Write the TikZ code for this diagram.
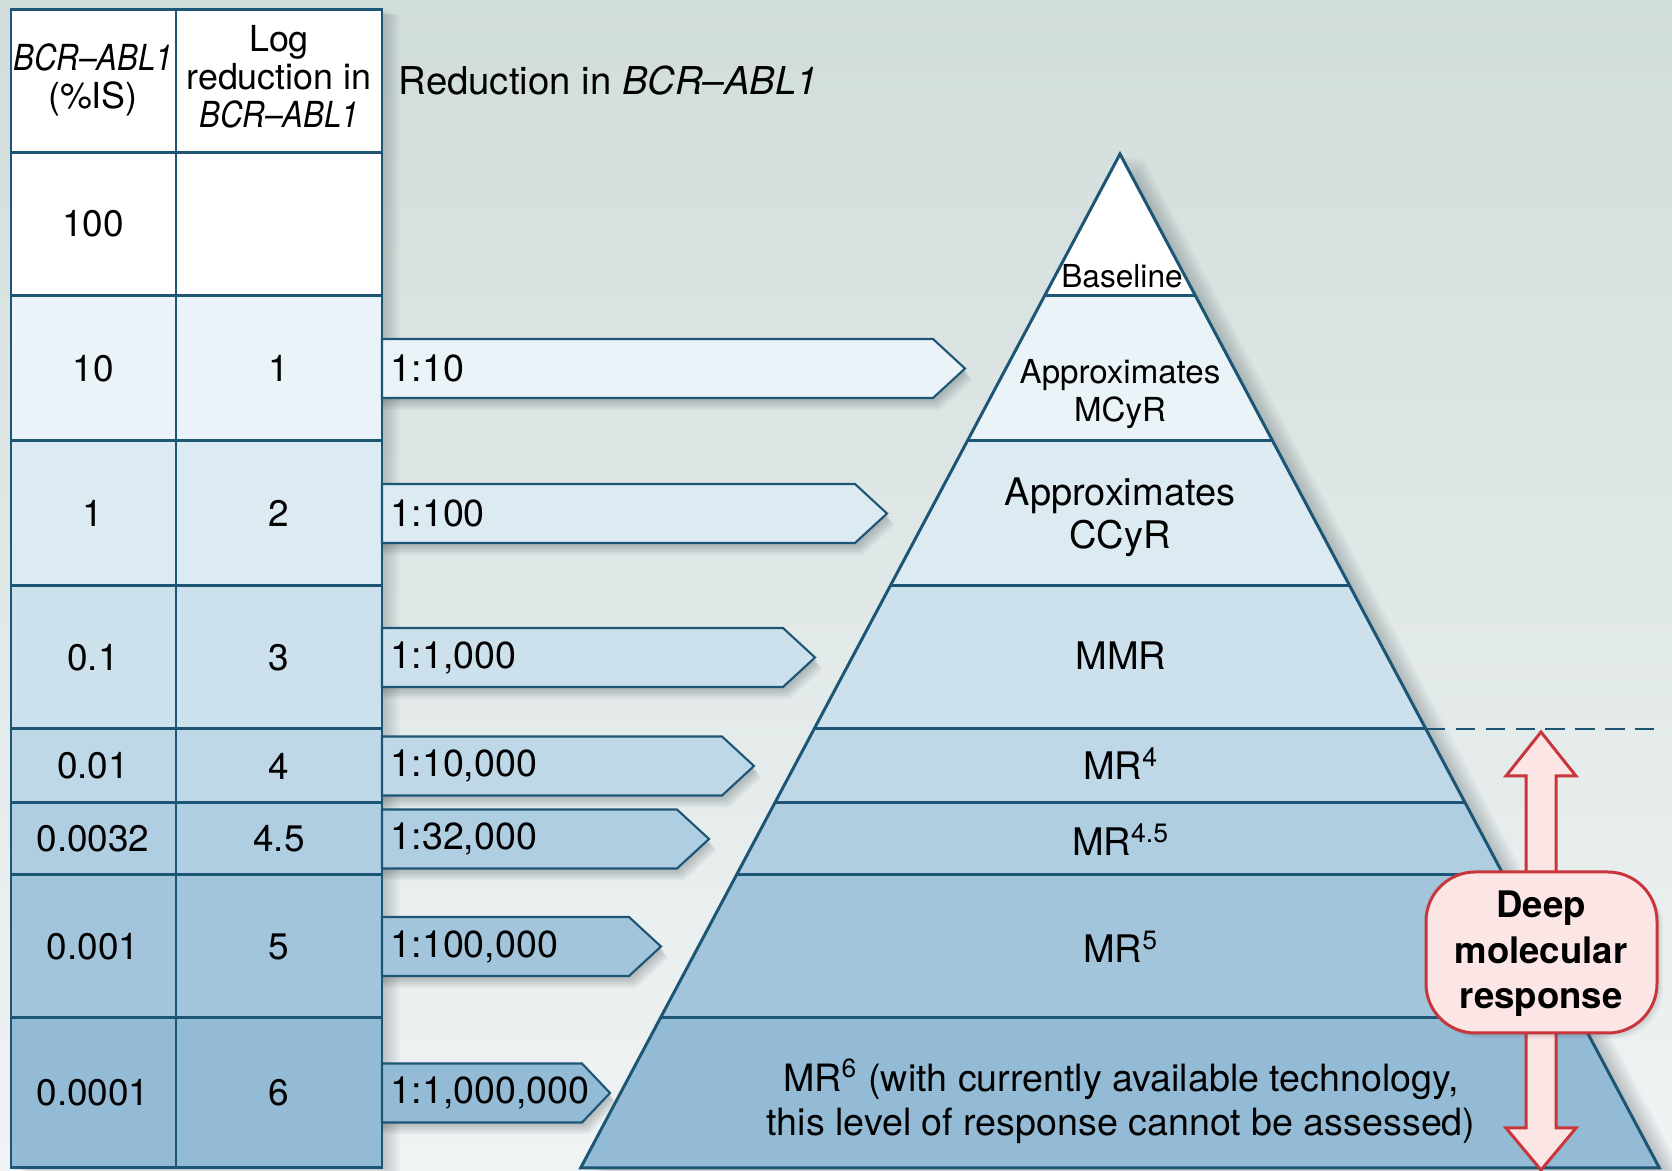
\documentclass[tikz,border=0pt]{standalone}
\usepackage{fontspec}
\setmainfont{TeX Gyre Heros}
\usepackage{graphicx}

\definecolor{bgtop}{HTML}{D1DDDB}
\definecolor{bgbot}{HTML}{F0F3F4}
\definecolor{edge}{HTML}{1D5675}
\definecolor{lvB}{HTML}{EAF3F8}
\definecolor{lvC}{HTML}{DCEAF2}
\definecolor{lvD}{HTML}{CDE1ED}
\definecolor{lvE}{HTML}{BFD8E8}
\definecolor{lvF}{HTML}{B0CEE2}
\definecolor{lvG}{HTML}{A2C5DC}
\definecolor{lvH}{HTML}{94BBD5}
\definecolor{dmrred}{HTML}{C8363C}
\definecolor{dmrfill}{HTML}{FCE5E5}
\definecolor{shade}{HTML}{233338}

\newcommand{\gene}{\textit{BCR--ABL1}}
\newcommand{\hgene}{\scalebox{0.87}[1]{\gene}}

\begin{document}
\begin{tikzpicture}[x=0.01cm, y=-0.01cm,
  haze/.style={fill=shade, opacity=0.028},
  gridline/.style={draw=edge, line width=0.85pt},
  cellnum/.style={font=\fontsize{10.5}{12}\selectfont, inner sep=0pt},
  headtext/.style={font=\fontsize{10.2}{10.8}\selectfont, align=center, inner sep=0pt},
  ratiobox/.style={fill=#1, draw=edge, line width=0.6pt, line join=miter},
  ratiotext/.style={font=\fontsize{10.7}{12}\selectfont, anchor=west, inner sep=0pt},
  level/.style={font=\fontsize{10.8}{12.2}\selectfont, align=center, inner sep=0pt},
  dmr/.style={fill=dmrfill, draw=dmrred, line width=0.85pt, line join=miter}
]
\useasboundingbox (0,0) rectangle (1672,1171);

% background
\shade[top color=bgtop, bottom color=bgbot] (0,0) rectangle (1672,1171);

% ---------- table ----------
% soft shadow: stacked translucent copies
\foreach \k in {1,...,9}
  \fill[haze] (11+2*\k,10+0.6*\k) rectangle (382+2*\k,1168+0.6*\k);
\fill[white] (11,10) rectangle (382,296);
\fill[lvB] (11,296) rectangle (382,441);
\fill[lvC] (11,441) rectangle (382,586);
\fill[lvD] (11,586) rectangle (382,729);
\fill[lvE] (11,729) rectangle (382,803);
\fill[lvF] (11,803) rectangle (382,875);
\fill[lvG] (11,875) rectangle (382,1018);
\fill[lvH] (11,1018) rectangle (382,1168);
\foreach \yy in {152.5,296,441,586,729,803,875,1018}
  \draw[gridline] (11,\yy) -- (382,\yy);
\draw[gridline] (176,10) -- (176,1168);
\draw[gridline] (11,10) rectangle (382,1168);

% table header
\node[headtext] (hpct) at (93,80) {\hgene\\(\%IS)};
\node[headtext] (hlog) at (279,76.5) {Log\\reduction in\\\hgene};

% table entries
\node[cellnum] (p100) at (93,224) {100};
\node[cellnum] (p10)  at (93,368.5) {10};
\node[cellnum] (p1)   at (93,513.5) {1};
\node[cellnum] (p01)  at (93,657.5) {0.1};
\node[cellnum] (p001) at (93,766) {0.01};
\node[cellnum] (p32)  at (93,839) {0.0032};
\node[cellnum] (p0001) at (93,946.5) {0.001};
\node[cellnum] (p00001) at (93,1093) {0.0001};
\node[cellnum] (l1)  at (279,368.5) {1};
\node[cellnum] (l2)  at (279,513.5) {2};
\node[cellnum] (l3)  at (279,657.5) {3};
\node[cellnum] (l4)  at (279,766) {4};
\node[cellnum] (l45) at (279,839) {4.5};
\node[cellnum] (l5)  at (279,946.5) {5};
\node[cellnum] (l6)  at (279,1093) {6};

% heading
\node[anchor=base west, inner sep=0pt, font=\fontsize{10.9}{13}\selectfont]
  (title) at (398,95) {Reduction in \gene};

% ---------- ratio arrows ----------
% tip x, shoulder x, centre y, colour
\foreach \tip/\sh/\cy/\col in {965/933/368.5/lvB, 887/855/513.5/lvC, 815/783/657.5/lvD,
    754/722/766/lvE, 709/677/839/lvF, 661/629/946.5/lvG, 610/582/1093/lvH}{
  \foreach \k in {1,...,8}
    \fill[haze, opacity=0.04] (382,\cy-29.5+1.5*\k) -- (\sh+0.9*\k,\cy-29.5+1.5*\k)
      -- (\tip+0.9*\k,\cy+1.5*\k) -- (\sh+0.9*\k,\cy+29.5+1.5*\k) -- (382,\cy+29.5+1.5*\k) -- cycle;
  \draw[ratiobox=\col] (382,\cy-29.5) -- (\sh,\cy-29.5) -- (\tip,\cy)
    -- (\sh,\cy+29.5) -- (382,\cy+29.5) -- cycle;
}
\draw[gridline] (382,10) -- (382,1168);

\node[ratiotext] (r1) at (390,368.5) {1:10};
\node[ratiotext] (r2) at (390,513.5) {1:100};
\node[ratiotext] (r3) at (390,657.5) {1:1,000};
\node[ratiotext] (r4) at (390,766) {1:10,000};
\node[ratiotext] (r45) at (390,839) {1:32,000};
\node[ratiotext] (r5) at (390,946.5) {1:100,000};
\node[ratiotext] (r6) at (390,1093) {1:1,000,000};

% ---------- pyramid ----------
\foreach \k in {1,...,10}
  \fill[haze] (1120+2.4*\k,154+0.5*\k) -- (1659.4+2.4*\k,1168+0.5*\k)
    -- (580.6+2.4*\k,1168+0.5*\k) -- cycle;
\fill[white] (1120,154) -- (1659.4,1168) -- (580.6,1168) -- cycle;
\fill[lvB] (1044.5,296) -- (1195.5,296) -- (1272.7,441) -- (967.3,441) -- cycle;
\fill[lvC] (967.3,441) -- (1272.7,441) -- (1349.8,586) -- (890.2,586) -- cycle;
\fill[lvD] (890.2,586) -- (1349.8,586) -- (1425.9,729) -- (814.1,729) -- cycle;
\fill[lvE] (814.1,729) -- (1425.9,729) -- (1465.3,803) -- (774.7,803) -- cycle;
\fill[lvF] (774.7,803) -- (1465.3,803) -- (1503.6,875) -- (736.4,875) -- cycle;
\fill[lvG] (736.4,875) -- (1503.6,875) -- (1579.6,1018) -- (660.4,1018) -- cycle;
\fill[lvH] (660.4,1018) -- (1579.6,1018) -- (1659.4,1168) -- (580.6,1168) -- cycle;
\draw[gridline] (1044.5,296) -- (1195.5,296);
\draw[gridline] (967.3,441) -- (1272.7,441);
\draw[gridline] (890.2,586) -- (1349.8,586);
\draw[gridline] (814.1,729) -- (1425.9,729);
\draw[gridline] (774.7,803) -- (1465.3,803);
\draw[gridline] (736.4,875) -- (1503.6,875);
\draw[gridline] (660.4,1018) -- (1579.6,1018);
\draw[gridline, line join=miter] (1120,154) -- (1659.4,1168) -- (580.6,1168) -- cycle;

% threshold of deep response
\draw[edge, line width=0.75pt, dash pattern=on 5.5pt off 3pt] (1425.9,729) -- (1662,729);

% pyramid labels
\node[level, font=\fontsize{9}{10}\selectfont, anchor=base] (base) at (1122,288) {Baseline};
\node[level, font=\fontsize{9.4}{10.9}\selectfont] (mcyr) at (1120,394) {Approximates\\MCyR};
\node[level, font=\fontsize{10.8}{12.3}\selectfont] (ccyr) at (1120,517) {Approximates\\CCyR};
\node[level] (mmr) at (1121,656) {MMR};
\node[level, anchor=base] (mr4) at (1121,780) {MR\textsuperscript{4}};
\node[level, anchor=base] (mr45) at (1121,856) {MR\textsuperscript{4.5}};
\node[level, anchor=base] (mr5) at (1121,963) {MR\textsuperscript{5}};
\node[level, font=\fontsize{10.7}{12.5}\selectfont] (mr6) at (1121,1101)
  {MR\textsuperscript{6} (with currently available technology,\\this level of response cannot be assessed)};

% ---------- deep molecular response ----------
\draw[dmr] (1541,732) -- (1576,776) -- (1556,776) -- (1556,1128) -- (1576,1128)
  -- (1541,1170) -- (1506,1128) -- (1526,1128) -- (1526,776) -- (1506,776) -- cycle;
\foreach \k in {1,...,5}
  \fill[haze, opacity=0.035, rounded corners=14]
    (1426+1.2*\k,872+1.2*\k) rectangle (1657+1.2*\k,1033+1.2*\k);
\draw[dmr, rounded corners=14] (1426,872) rectangle (1657,1033);
\node[font=\bfseries\fontsize{10.4}{12.9}\selectfont, align=center, inner sep=0pt]
  (dmrlabel) at (1541,954) {Deep\\molecular\\response};
\end{tikzpicture}
\end{document}
